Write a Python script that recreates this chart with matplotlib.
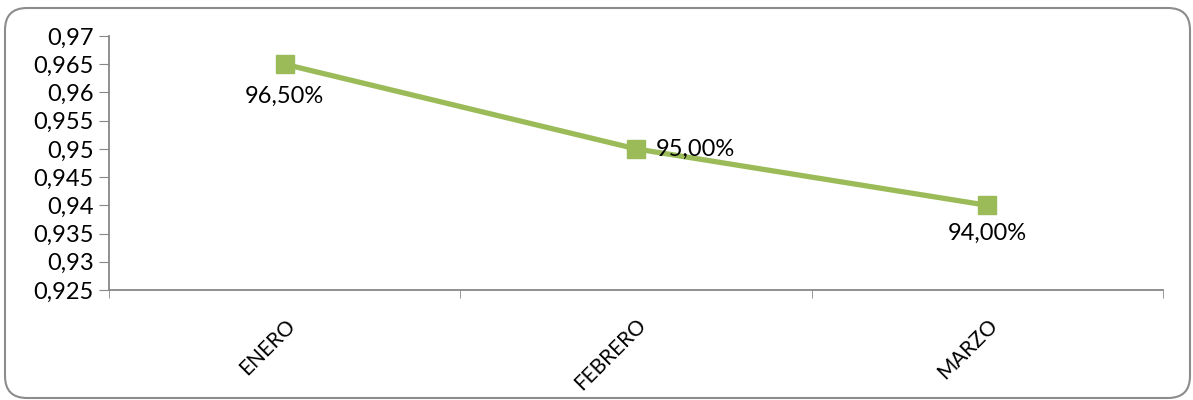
import matplotlib
matplotlib.use("Agg")
import matplotlib.pyplot as plt
from matplotlib.patches import FancyBboxPatch
from matplotlib.transforms import IdentityTransform

categories = ["ENERO", "FEBRERO", "MARZO"]
values = [0.965, 0.95, 0.94]
value_labels = ["96,50%", "95,00%", "94,00%"]
yticks = [0.925, 0.93, 0.935, 0.94, 0.945, 0.95, 0.955, 0.96, 0.965, 0.97]
ytick_labels = ["0,925", "0,93", "0,935", "0,94", "0,945", "0,95", "0,955", "0,96", "0,965", "0,97"]

plt.rcParams['font.family'] = ['Lato', 'DejaVu Sans']

W, H = 1193, 400
fig = plt.figure(figsize=(W/100, H/100), dpi=100)
border = FancyBboxPatch((5, 2), 1190-5, 392-2,
                        boxstyle="round,pad=0,rounding_size=22",
                        transform=IdentityTransform(), facecolor="none",
                        edgecolor="#8c8c8c", linewidth=1.5, zorder=10)
fig.add_artist(border)

ax = fig.add_axes([109/W, 1-290/H, (1163-109)/W, (290-36)/H])
ax.set_facecolor("none")
x = list(range(len(categories)))
ax.plot(x, values, color="#9BBB59", linewidth=3.8, marker="s", markersize=13,
        markerfacecolor="#9BBB59", markeredgecolor="#9BBB59", zorder=3)

offsets = [(0, -23, "center", "center"), (14, 0, "left", "center"), (0, -20, "center", "center")]
for xi, v, lab, (dx, dy, ha, va) in zip(x, values, value_labels, offsets):
    ax.annotate(lab, (xi, v), xytext=(dx, dy), textcoords="offset points",
                ha=ha, va=va, fontsize=17, color="black")

ax.set_xlim(-0.5, 2.5)
ax.set_ylim(0.925, 0.97)
ax.set_yticks(yticks)
ax.set_yticklabels(ytick_labels, fontsize=17)
ax.set_xticks(x)
ax.set_xticklabels(categories, rotation=45, ha="right", rotation_mode="anchor", fontsize=15)
ax.tick_params(axis="x", which="major", length=0, pad=18)
ax.set_xticks([-0.5, 0.5, 1.5, 2.5], minor=True)
ax.tick_params(axis="x", which="minor", length=6, color="#878787", direction="out")
ax.tick_params(axis="y", length=7, color="#878787", direction="out", pad=4)
for s in ["top", "right"]:
    ax.spines[s].set_visible(False)
for s in ["left", "bottom"]:
    ax.spines[s].set_color("#878787")
    ax.spines[s].set_linewidth(1.3)

fig.savefig("out.png", dpi=100)
